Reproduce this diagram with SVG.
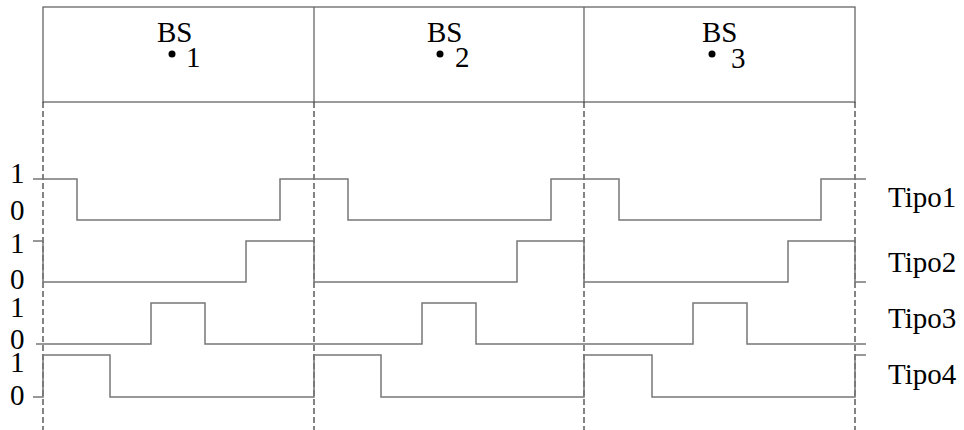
<svg xmlns="http://www.w3.org/2000/svg" width="964" height="430" viewBox="0 0 964 430">
<style>
.box{fill:none;stroke:#666;stroke-width:1.3}
.dash{fill:none;stroke:#333;stroke-width:1.2;stroke-dasharray:6 3}
.wave{fill:none;stroke:#777;stroke-width:1.5}
</style>
<rect width="964" height="430" fill="#fff"/>
<g font-family="'Liberation Serif', 'DejaVu Serif', 'Times New Roman', serif" font-size="29" fill="#000">
<g id="header">
<rect class="box" x="43" y="7" width="812" height="95"/>
<line class="box" x1="314" y1="7" x2="314" y2="102"/>
<line class="box" x1="584" y1="7" x2="584" y2="102"/>
</g>
<g id="bs1">
<text x="157" y="42">BS</text><circle cx="172" cy="54" r="3.5"/><text x="186" y="67">1</text>
</g>
<g id="bs2">
<text x="427" y="42">BS</text><circle cx="440" cy="54" r="3.5"/><text x="455" y="67">2</text>
</g>
<g id="bs3">
<text x="702" y="42">BS</text><circle cx="712" cy="54" r="3.5"/><text x="731" y="68">3</text>
</g>
<g id="connectors">
<line class="dash" x1="43" y1="102" x2="43" y2="430"/>
<line class="dash" x1="314" y1="102" x2="314" y2="430"/>
<line class="dash" x1="584" y1="102" x2="584" y2="430"/>
<line class="dash" x1="855" y1="102" x2="855" y2="430"/>
</g>
<g id="tipo1-wave">
<polyline class="wave" points="33,179 77,179 77,220 280,220 280,179 348,179 348,220 551,220 551,179 619,179 619,220 821,220 821,179 866,179"/>
</g>
<g id="tipo2-wave">
<polyline class="wave" points="33,241 43,241 43,282 246,282 246,241 314,241 314,282 517,282 517,241 584,241 584,282 788,282 788,241 855,241 855,282 866,282"/>
</g>
<g id="tipo3-wave">
<polyline class="wave" points="36,344 151,344 151,303 205,303 205,344 422,344 422,303 476,303 476,344 693,344 693,303 747,303 747,344 866,344"/>
</g>
<g id="tipo4-wave">
<polyline class="wave" points="33,397 43,397 43,355 110,355 110,397 314,397 314,355 381,355 381,397 584,397 584,355 652,355 652,397 855,397 855,355 866,355"/>
</g>
<g id="levels">
<text x="10" y="183">1</text><text x="10" y="220">0</text>
<text x="10" y="253">1</text><text x="10" y="289">0</text>
<text x="10" y="317">1</text><text x="10" y="349">0</text>
<text x="10" y="372">1</text><text x="10" y="405">0</text>
</g>
<g id="labels">
<text x="888" y="207">Tipo1</text>
<text x="888" y="272">Tipo2</text>
<text x="888" y="328">Tipo3</text>
<text x="888" y="384">Tipo4</text>
</g>
</g>
</svg>
